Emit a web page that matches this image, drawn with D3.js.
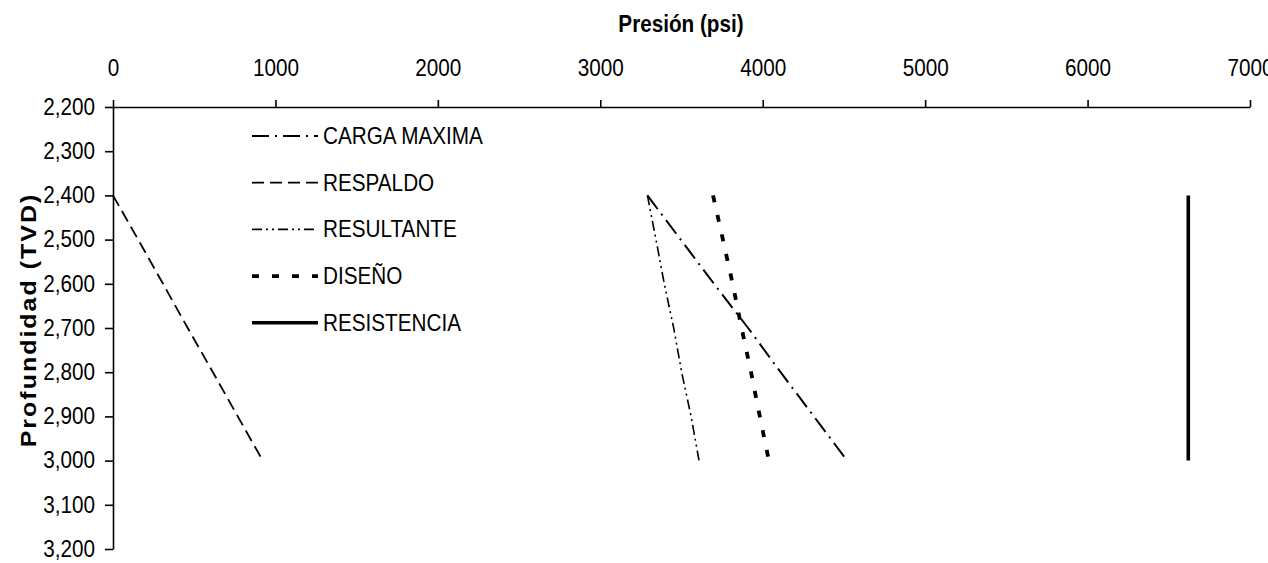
<!DOCTYPE html>
<html>
<head>
<meta charset="utf-8">
<script src="https://cdn.jsdelivr.net/npm/d3@7"></script>
<style>
  body { margin: 0; background: #fff; }
  text { font-family: "Liberation Sans", Arial, sans-serif; fill: #000; }
  .axis path, .axis line { stroke: #000; stroke-width: 1.6px; }
  .axis text { font-size: 23px; }
  .series { fill: none; stroke: #000; }
</style>
</head>
<body>
<div id="graph"></div>
<script>
// Valores (profundidad TVD vs presion psi)
const xTicks = [0, 1000, 2000, 3000, 4000, 5000, 6000, 7000]
const yTicks = [2200, 2300, 2400, 2500, 2600, 2700, 2800, 2900, 3000, 3100, 3200]

const seriesNames = ["CARGA MAXIMA", "RESPALDO", "RESULTANTE", "DISEÑO", "RESISTENCIA"]

const depth = [2400, 2500, 2600, 2700, 2800, 2900, 3000]
const cargaMaxima = [3290, 3495, 3700, 3910, 4110, 4315, 4520]
const respaldo = [0, 155, 308, 460, 615, 768, 922]
const resultante = [3290, 3343, 3394, 3452, 3501, 3559, 3608]
const diseno = [3694, 3755, 3815, 3870, 3928, 3982, 4038]
const resistencia = [6620, 6620, 6620, 6620, 6620, 6620, 6620]

const seriesValues = [cargaMaxima, respaldo, resultante, diseno, resistencia]

// estilo de cada linea (igual que en Excel)
const seriesDash = ["17,6,2,6", "12,6", "10,4,2,4,2,4", "7,13", null]
const seriesWidth = [2, 1.8, 1.6, 3.8, 3.6]

const width = 1268
const height = 563
const textScale = "scale(0.9,1)"

const svg = d3.select("#graph")
              .append("svg")
              .attr("width", width)
              .attr("height", height)

// Escalas
const xScale = d3.scaleLinear()
                 .domain([0, 7000])
                 .range([113, 1250])
const yScale = d3.scaleLinear()
                 .domain([2200, 3200])
                 .range([107, 549])

// Eje x arriba
const xAxis = d3.axisTop(xScale)
                .tickValues(xTicks)
                .tickFormat(d3.format("d"))
                .tickSize(7)
                .tickSizeOuter(0)
                .tickPadding(24)
svg.append("g")
   .attr("class", "axis")
   .attr("transform", `translate(0,${yScale(2200)})`)
   .call(xAxis)
   .call(g => g.selectAll("text").attr("transform", textScale))

// Eje y
const yAxis = d3.axisLeft(yScale)
                .tickValues(yTicks)
                .tickFormat(d3.format(","))
                .tickSize(8)
                .tickSizeOuter(0)
                .tickPadding(12)
svg.append("g")
   .attr("class", "axis")
   .attr("transform", `translate(${xScale(0)},0)`)
   .call(yAxis)
   .call(g => g.selectAll("text").attr("transform", textScale))

// Lineas
const line = d3.line()
               .x(d => xScale(d[0]))
               .y(d => yScale(d[1]))

seriesValues.forEach((values, i) => {
    const points = values.map((v, j) => [v, depth[j]])
    svg.append("path")
       .datum(points)
       .attr("class", "series")
       .attr("d", line)
       .attr("stroke-width", seriesWidth[i])
       .attr("stroke-dasharray", seriesDash[i])
})

// Leyenda
const legend = svg.append("g")
                  .attr("transform", "translate(252,136)")
seriesNames.forEach((name, i) => {
    const item = legend.append("g")
                       .attr("transform", `translate(0,${i * 46.7})`)
    item.append("line")
        .attr("x1", 0)
        .attr("x2", 66)
        .attr("stroke", "#000")
        .attr("stroke-width", seriesWidth[i])
        .attr("stroke-dasharray", seriesDash[i])
    item.append("g")
        .attr("transform", "translate(71,0)")
        .append("text")
        .attr("transform", textScale)
        .attr("dy", "0.35em")
        .style("font-size", "23px")
        .text(name)
})

// Titulo del eje x
svg.append("g")
   .attr("transform", "translate(681,32)")
   .append("text")
   .attr("transform", textScale)
   .attr("text-anchor", "middle")
   .style("font-size", "23px")
   .style("font-weight", "bold")
   .text("Presión (psi)")

// Titulo del eje y
svg.append("g")
   .attr("transform", "translate(36,320) rotate(-90)")
   .append("text")
   .attr("text-anchor", "middle")
   .attr("transform", "scale(1,0.9)")
   .style("font-size", "25px")
   .style("font-weight", "bold")
   .style("letter-spacing", "2px")
   .text("Profundidad (TVD)")
</script>
</body>
</html>
